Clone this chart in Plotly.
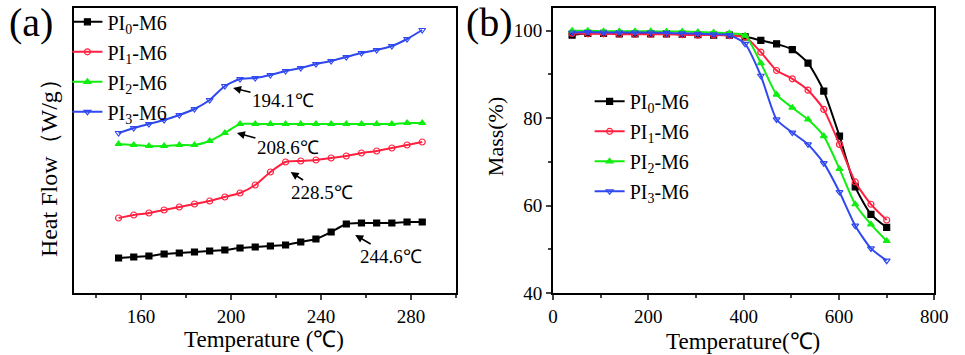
"""
DSC (a) and TGA (b) curves of PI-M6 samples, side by side.
"""
import plotly.graph_objects as go
from plotly.subplots import make_subplots

names = ["PI<sub>0</sub>-M6", "PI<sub>1</sub>-M6", "PI<sub>2</sub>-M6", "PI<sub>3</sub>-M6"]
colors = ["#000000", "#ff2040", "#10ee10", "#3048f0"]
symbols = ["square", "circle-open", "triangle-up", "triangle-down-open"]

# (a) DSC, temperature in °C, heat flow in arbitrary units (curves offset)
dsc_temp = [150.0, 156.75, 163.5, 170.25, 177.0, 183.75, 190.5, 197.25, 204.0, 210.75,
            217.5, 224.25, 231.0, 237.75, 244.5, 251.25, 258.0, 264.75, 271.5, 278.25, 285.0]
dsc_pi0 = [0.35, 0.36, 0.37, 0.39, 0.40, 0.41, 0.42, 0.43, 0.45, 0.46,
           0.47, 0.48, 0.51, 0.54, 0.61, 0.69, 0.70, 0.70, 0.70, 0.71, 0.71]
dsc_pi1 = [0.75, 0.78, 0.80, 0.83, 0.86, 0.89, 0.92, 0.96, 1.00, 1.08,
           1.21, 1.31, 1.32, 1.33, 1.35, 1.37, 1.40, 1.42, 1.45, 1.48, 1.51]
dsc_pi2 = [1.49, 1.48, 1.47, 1.47, 1.48, 1.48, 1.52, 1.60, 1.69, 1.69,
           1.69, 1.69, 1.69, 1.69, 1.69, 1.69, 1.69, 1.69, 1.69, 1.70, 1.70]
dsc_pi3 = [1.60, 1.65, 1.69, 1.73, 1.78, 1.84, 1.93, 2.07, 2.14, 2.15,
           2.18, 2.22, 2.25, 2.29, 2.32, 2.36, 2.40, 2.43, 2.47, 2.54, 2.63]
tg_labels = ["244.6℃", "228.5℃", "208.6℃", "194.1℃"]
tg_x = [255.2, 226.5, 202.6, 200.9]
tg_y = [0.58, 1.21, 1.60, 2.05]

# (b) TGA, temperature in °C, mass in %
tga_temp = [40, 73, 106, 139, 172, 205, 238, 271, 304, 337,
            370, 403, 436, 469, 502, 535, 568, 601, 634, 667, 700]
tga_pi0 = [99.0, 99.4, 99.4, 99.3, 99.3, 99.3, 99.3, 99.2, 99.1, 99.0,
           99.0, 98.6, 97.8, 97.0, 95.7, 92.6, 86.2, 75.9, 64.3, 58.0, 55.0]
tga_pi1 = [99.4, 99.3, 99.3, 99.2, 99.2, 99.2, 99.2, 99.1, 99.0, 99.0,
           98.9, 98.6, 95.1, 90.9, 89.0, 86.4, 82.0, 74.0, 65.4, 60.3, 56.7]
tga_pi2 = [100.0, 100.0, 99.9, 99.9, 99.9, 99.9, 99.8, 99.8, 99.7, 99.6,
           99.4, 98.9, 92.6, 85.4, 82.4, 79.7, 75.9, 68.4, 60.3, 55.7, 51.9]
tga_pi3 = [99.6, 99.7, 99.6, 99.6, 99.6, 99.6, 99.5, 99.4, 99.3, 99.2,
           99.0, 97.0, 89.7, 79.7, 76.7, 74.0, 69.7, 63.1, 55.4, 50.2, 47.4]

FONT = "Liberation Serif"

fig = make_subplots(rows=1, cols=2, horizontal_spacing=0.1)

for i, ys in enumerate([dsc_pi0, dsc_pi1, dsc_pi2, dsc_pi3]):
    fig.add_trace(go.Scatter(
        x=dsc_temp, y=ys, mode="lines+markers", name=names[i],
        line=dict(color=colors[i], width=2, shape="spline", smoothing=0.6),
        marker=dict(symbol=symbols[i], size=6, color=colors[i],
                    line=dict(color=colors[i], width=1.2)),
        legend="legend", legendgroup=f"a{i}",
    ), row=1, col=1)

for i, ys in enumerate([tga_pi0, tga_pi1, tga_pi2, tga_pi3]):
    fig.add_trace(go.Scatter(
        x=tga_temp, y=ys, mode="lines+markers", name=names[i],
        line=dict(color=colors[i], width=2, shape="spline", smoothing=0.6),
        marker=dict(symbol=symbols[i], size=6, color=colors[i],
                    line=dict(color=colors[i], width=1.2)),
        legend="legend2", legendgroup=f"b{i}",
    ), row=1, col=2)

axis_style = dict(
    showline=True, linecolor="black", linewidth=2, mirror=True,
    showgrid=False, zeroline=False,
    tickfont=dict(family=FONT, size=19, color="black"),
)

fig.update_xaxes(
    axis_style, domain=[0.0725, 0.4767], range=[130, 300],
    tick0=0, dtick=40, ticks="outside", ticklen=5, tickwidth=2,
    minor=dict(dtick=20, ticks="outside", ticklen=3, tickwidth=2),
    row=1, col=1,
)
fig.update_yaxes(
    axis_style, range=[0, 2.85], showticklabels=False, ticks="",
    row=1, col=1,
)
fig.update_xaxes(
    axis_style, domain=[0.5793, 0.9824], range=[0, 800],
    dtick=200, ticks="outside", ticklen=5, tickwidth=2,
    minor=dict(dtick=100, ticks="outside", ticklen=3, tickwidth=2),
    row=1, col=2,
)
fig.update_yaxes(
    axis_style, range=[40, 105.2], dtick=20, ticks="outside", ticklen=5, tickwidth=2,
    minor=dict(dtick=10, ticks="outside", ticklen=3, tickwidth=2),
    row=1, col=2,
)

for lab, hx, hy, dx, dy in zip(tg_labels, tg_x, tg_y, [36, 31, 51, 50], [21, 20, 14, 12]):
    fig.add_annotation(
        x=hx, y=hy, xref="x", yref="y", text=lab,
        showarrow=True, ax=dx, ay=dy, arrowhead=2, arrowsize=1, arrowwidth=1.6,
        arrowcolor="black", font=dict(family=FONT, size=19, color="black"),
    )

# axis titles and panel letters, placed in pixels then converted to paper units
W, H, T, B = 965, 355, 8, 62
px_texts = [
    ("Temperature (℃)", 264, 339, 0, 23),
    ("Temperature(℃)", 753, 341, 0, 23),
    ("Heat Flow（W/g）", 45, 162, -90, 24),
    ("Mass(%)", 500, 137, -90, 22),
    ("(a)", 27, 22, 0, 40),
    ("(b)", 494, 22, 0, 40),
]
for text, px, py, ang, size in px_texts:
    fig.add_annotation(
        x=px / W, y=(H - B - py) / (H - T - B), xref="paper", yref="paper",
        xanchor="center", yanchor="middle", text=text, textangle=ang, showarrow=False,
        font=dict(family=FONT, size=size, color="black"),
    )

legend_style = dict(
    font=dict(family=FONT, size=20, color="black"),
    bgcolor="rgba(0,0,0,0)", borderwidth=0, tracegroupgap=1,
    xanchor="left", yanchor="top",
)
fig.update_layout(
    legend=dict(legend_style, x=0.066, y=1.02),
    legend2=dict(legend_style, x=0.618, y=0.741),
    width=W, height=H,
    margin=dict(l=0, r=0, t=T, b=B),
    paper_bgcolor="white",
    plot_bgcolor="white",
    font=dict(family=FONT, color="black"),
)

fig.write_html("out.html", config={"displayModeBar": False},
               post_script="document.body.style.margin='0';")
